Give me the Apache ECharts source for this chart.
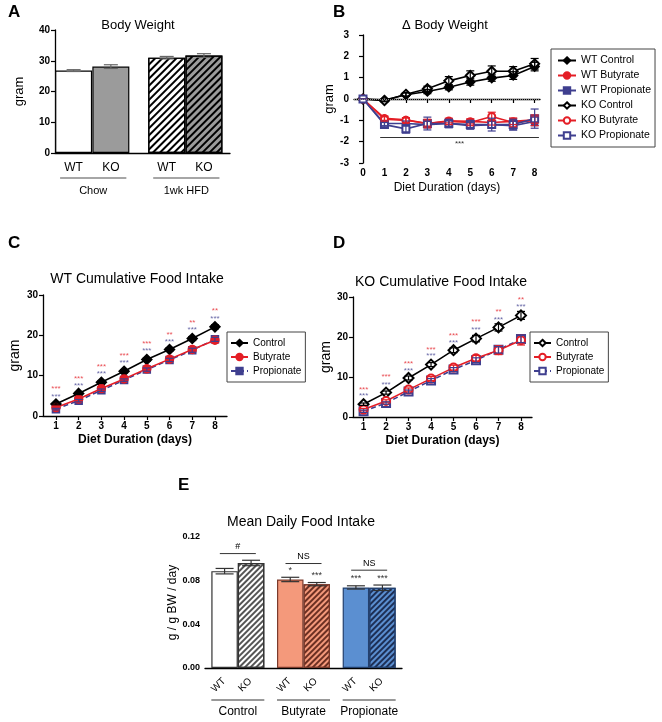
<!DOCTYPE html>
<html>
<head>
<meta charset="utf-8">
<title>Body weight and food intake</title>
<script src="https://cdn.jsdelivr.net/npm/echarts@6/dist/echarts.min.js"></script>
<style>body{margin:0;background:#fff}#main{width:662px;height:722px}</style>
</head>
<body>
<div id="main"></div>
<script>
// ---- A: body weight
const bwGroups = ['Chow', '1wk HFD'];
const bwLabels = ['WT', 'KO', 'WT', 'KO'];
const bwPos = [0.5, 1.5, 3.0, 4.0];
const bwMean = [26.8, 28.1, 31.0, 31.7];
const bwErr = [0.3, 0.6, 0.4, 0.6];

// ---- B: delta body weight
const days = [0, 1, 2, 3, 4, 5, 6, 7, 8];
const dbwNames = ['WT Control', 'WT Butyrate', 'WT Propionate', 'KO Control', 'KO Butyrate', 'KO Propionate'];
const wtCtrlDbw = [0, -0.05, 0.2, 0.35, 0.55, 0.8, 0.98, 1.1, 1.52];
const wtButDbw = [0, -0.9, -0.98, -1.15, -1.02, -1.05, -1.1, -1.05, -0.98];
const wtPropDbw = [0, -1.15, -1.15, -1.2, -1.15, -1.25, -1.2, -1.25, -1.05];
const koCtrlDbw = [0, -0.08, 0.22, 0.48, 0.85, 1.1, 1.3, 1.3, 1.65];
const koButDbw = [0, -0.95, -1.0, -1.15, -1.05, -1.1, -0.82, -1.1, -1.0];
const koPropDbw = [0, -1.2, -1.4, -1.15, -1.15, -1.2, -1.2, -1.2, -0.92];
const wtCtrlDbwErr = [0, 0.05, 0.08, 0.1, 0.12, 0.15, 0.15, 0.18, 0.2];
const wtButDbwErr = [0, 0.1, 0.1, 0.12, 0.1, 0.12, 0.12, 0.15, 0.15];
const wtPropDbwErr = [0, 0.1, 0.12, 0.15, 0.12, 0.15, 0.15, 0.2, 0.2];
const koCtrlDbwErr = [0, 0.05, 0.08, 0.12, 0.2, 0.22, 0.25, 0.22, 0.25];
const koButDbwErr = [0, 0.12, 0.12, 0.2, 0.15, 0.15, 0.2, 0.2, 0.25];
const koPropDbwErr = [0, 0.1, 0.2, 0.3, 0.2, 0.2, 0.3, 0.25, 0.45];

// ---- C / D: cumulative food intake
const fiDays = [1, 2, 3, 4, 5, 6, 7, 8];
const wtCtrlFi = [2.98, 5.6, 8.35, 11.1, 14.0, 16.5, 19.2, 22.1];
const wtButFi = [2.1, 4.2, 6.8, 9.2, 11.7, 14.1, 16.5, 18.8];
const wtPropFi = [1.7, 3.8, 6.4, 8.9, 11.5, 13.9, 16.3, 19.0];
const wtCtrlFiErr = [0.2, 0.3, 0.3, 0.4, 0.4, 0.4, 0.5, 0.5];
const wtButFiErr = [0.2, 0.3, 0.3, 0.3, 0.4, 0.4, 0.5, 0.6];
const wtPropFiErr = [0.2, 0.3, 0.3, 0.3, 0.4, 0.4, 0.5, 0.5];
const koCtrlFi = [3.2, 6.1, 9.75, 13.1, 16.7, 19.6, 22.4, 25.4];
const koButFi = [1.85, 4.0, 6.85, 9.6, 12.35, 14.7, 16.7, 19.2];
const koPropFi = [1.45, 3.5, 6.35, 9.1, 11.85, 14.2, 16.8, 19.5];
const koCtrlFiErr = [0.3, 0.4, 0.5, 0.5, 0.6, 0.8, 0.9, 1.0];
const koButFiErr = [0.3, 0.3, 0.4, 0.5, 0.6, 0.7, 1.1, 1.2];
const koPropFiErr = [0.3, 0.3, 0.4, 0.5, 0.5, 0.6, 0.8, 0.9];
const wtStarBut = ['***', '***', '***', '***', '***', '**', '**', '**'];
const wtStarProp = ['***', '***', '***', '***', '***', '***', '***', '***'];
const wtStarButY = [6.7, 9.2, 12.2, 14.9, 17.9, 20.2, 23.2, 26.0];
const wtStarPropY = [4.8, 7.4, 10.4, 13.2, 16.2, 18.4, 21.3, 24.2];
const koStarBut = ['***', '***', '***', '***', '***', '***', '**', '**'];
const koStarProp = ['***', '***', '***', '***', '***', '***', '***', '***'];
const koStarButY = [6.85, 10.0, 13.3, 16.9, 20.4, 23.75, 26.25, 29.3];
const koStarPropY = [5.2, 8.1, 11.5, 15.2, 18.6, 21.8, 24.4, 27.5];

// ---- E: mean daily food intake
const mdfGroups = ['Control', 'Butyrate', 'Propionate'];
const mdfWT = [0.0887, 0.0811, 0.0738];
const mdfKO = [0.0962, 0.0768, 0.0735];
const mdfWTErr = [0.0025, 0.002, 0.0015];
const mdfKOErr = [0.0025, 0.0015, 0.0025];
const mdfWTSig = ['', '*', '***'];
const mdfKOSig = ['', '***', '***'];
const mdfPairSig = ['#', 'NS', 'NS'];
const mdfPairY = [0.1048, 0.0957, 0.0896];

const FONT = 'Liberation Sans, Arial, sans-serif';
const RED = '#e41e26', BLUE = '#3f3f8f';

// stripes running from lower left to upper right
function hatch(color, gap) {
  return { symbol: 'rect', symbolSize: 1, dashArrayX: [1, 0], dashArrayY: [1.2, gap], rotation: -Math.PI / 4, color: color };
}

function axisBase(extra) {
  return Object.assign({
    axisLine: { lineStyle: { color: '#000', width: 1.3 } },
    axisTick: { length: 4, lineStyle: { color: '#000', width: 1.2 } },
    axisLabel: { color: '#000', fontSize: 10, fontWeight: 'bold', fontFamily: FONT, margin: 5 },
    splitLine: { show: false },
    nameTextStyle: { color: '#000', fontSize: 12, fontFamily: FONT },
    nameLocation: 'middle'
  }, extra);
}

function errSeries(ax, xs, ys, es, color, cap, shift) {
  return {
    type: 'custom', xAxisIndex: ax, yAxisIndex: ax, silent: true, z: 4,
    data: xs.map((x, i) => [x, ys[i], es[i]]),
    renderItem: (params, api) => {
      const hi = api.coord([api.value(0), api.value(1) + api.value(2)]);
      const lo = api.coord([api.value(0), api.value(1) - api.value(2)]);
      const x = hi[0] + (shift || 0);
      const st = { stroke: color, lineWidth: 1.2 };
      return { type: 'group', children: [
        { type: 'line', shape: { x1: x, y1: hi[1], x2: x, y2: lo[1] }, style: st },
        { type: 'line', shape: { x1: x - cap, y1: hi[1], x2: x + cap, y2: hi[1] }, style: st },
        { type: 'line', shape: { x1: x - cap, y1: lo[1], x2: x + cap, y2: lo[1] }, style: st }
      ] };
    }
  };
}

function lineSeries(name, ax, xs, ys, color, symbol, size, dashed) {
  return {
    type: 'line', name: name, xAxisIndex: ax, yAxisIndex: ax, z: 3,
    data: xs.map((x, i) => [x, ys[i]]),
    symbol: symbol, symbolSize: size, color: color,
    lineStyle: { color: color, width: 1.6, type: dashed ? [5, 3] : 'solid' },
    itemStyle: { color: color, borderColor: color, borderWidth: 1.5 }
  };
}

function starSeries(ax, xs, ys, texts, color) {
  return {
    type: 'scatter', xAxisIndex: ax, yAxisIndex: ax, silent: true, symbolSize: 1,
    itemStyle: { color: 'transparent' },
    data: xs.map((x, i) => [x, ys[i], texts[i]]),
    label: { show: true, position: 'inside', formatter: p => p.value[2], color: color, fontSize: 8, fontFamily: FONT }
  };
}

const chart = echarts.init(document.getElementById('main'));

const legendBase = {
  orient: 'vertical', itemWidth: 18, itemHeight: 8, itemGap: 4,
  borderColor: '#444', borderWidth: 1, padding: [6, 4, 6, 6],
  textStyle: { fontSize: 10.5, fontFamily: FONT, color: '#000' },
  selectedMode: false
};
const smallLegend = {
  itemWidth: 17, padding: [6, 4, 6, 3], itemGap: 4,
  textStyle: { fontSize: 10, fontFamily: FONT, color: '#000' }
};

const aStyles = [
  { color: '#fff' },
  { color: '#9b9b9b' },
  { color: '#fff', decal: hatch('#000', 2.2) },
  { color: '#9b9b9b', decal: hatch('#000', 2.2) }
];
const eWTColors = ['#ffffff', '#f4997b', '#5b8fd1'];
const eKOColors = ['#ffffff', '#f4997b', '#5b8fd1'];
const eKOHatch = ['#555555', '#6b2f22', '#1d2f55'];
const eBorders = ['#333333', '#7a3a2c', '#23406e'];

const option = {
  animation: false,
  textStyle: { fontFamily: FONT },
  grid: [
    { left: 55, top: 30, width: 175, height: 123 },
    { left: 354, top: 35, width: 186, height: 128 },
    { left: 43, top: 295, width: 184, height: 121 },
    { left: 353, top: 297, width: 179, height: 120 },
    { left: 205, top: 537, width: 197, height: 131 }
  ],
  xAxis: [
    axisBase({ type: 'value', gridIndex: 0, min: 0, max: 4.7, axisLabel: { show: false }, axisTick: { show: false } }),
    axisBase({ type: 'value', gridIndex: 1, min: -0.42, max: 8.25, name: 'Diet Duration (days)', nameGap: 19,
      axisLabel: { customValues: days, color: '#000', fontSize: 10, fontWeight: 'bold', margin: 5 },
      axisTick: { customValues: days, length: 4, lineStyle: { color: '#000', width: 1.2 } } }),
    axisBase({ type: 'value', gridIndex: 2, min: 0.43, max: 8.53, name: 'Diet Duration (days)', nameGap: 18,
      nameTextStyle: { color: '#000', fontSize: 12, fontWeight: 'bold', fontFamily: FONT },
      axisLabel: { customValues: fiDays, color: '#000', fontSize: 10, fontWeight: 'bold', margin: 5 },
      axisTick: { customValues: fiDays, length: 4, lineStyle: { color: '#000', width: 1.2 } } }),
    axisBase({ type: 'value', gridIndex: 3, min: 0.53, max: 8.49, name: 'Diet Duration (days)', nameGap: 18,
      nameTextStyle: { color: '#000', fontSize: 12, fontWeight: 'bold', fontFamily: FONT },
      axisLabel: { customValues: fiDays, color: '#000', fontSize: 10, fontWeight: 'bold', margin: 5 },
      axisTick: { customValues: fiDays, length: 4, lineStyle: { color: '#000', width: 1.2 } } }),
    axisBase({ type: 'category', gridIndex: 4, data: mdfGroups, axisLabel: { show: false }, axisTick: { show: false } })
  ],
  yAxis: [
    axisBase({ type: 'value', gridIndex: 0, min: 0, max: 40, interval: 10, name: 'gram', nameGap: 29, nameTextStyle: { fontSize: 13, color: '#000' } }),
    axisBase({ type: 'value', gridIndex: 1, min: -3, max: 3, interval: 1, name: 'gram', nameGap: 18, nameTextStyle: { fontSize: 13, color: '#000' } }),
    axisBase({ type: 'value', gridIndex: 2, min: 0, max: 30, interval: 10, name: 'gram', nameGap: 21, nameTextStyle: { fontSize: 14, color: '#000' } }),
    axisBase({ type: 'value', gridIndex: 3, min: 0, max: 30, interval: 10, name: 'gram', nameGap: 17, nameTextStyle: { fontSize: 14, color: '#000' } }),
    axisBase({ type: 'value', gridIndex: 4, min: 0, max: 0.12, interval: 0.04, name: 'g / g BW / day', nameGap: 26,
      nameTextStyle: { fontSize: 12, color: '#000' },
      axisLabel: { formatter: v => v.toFixed(2), color: '#000', fontSize: 9, fontWeight: 'bold', margin: 5 } })
  ],
  legend: [
    Object.assign({}, legendBase, { data: dbwNames, left: 551, top: 49 }),
    Object.assign({}, legendBase, smallLegend, { data: ['C:Control', 'C:Butyrate', 'C:Propionate'], left: 227, top: 332, formatter: n => n.slice(2) }),
    Object.assign({}, legendBase, smallLegend, { data: ['D:Control', 'D:Butyrate', 'D:Propionate'], left: 530, top: 332, formatter: n => n.slice(2) })
  ],
  series: [
    // A
    { type: 'bar', xAxisIndex: 0, yAxisIndex: 0, barWidth: 37, z: 2,
      data: bwPos.map((x, i) => ({ value: [x, bwMean[i]], itemStyle: Object.assign({ borderColor: '#000', borderWidth: 1.2 }, aStyles[i]) })) },
    errSeries(0, bwPos, bwMean, bwErr, '#666', 7),
    // B
    Object.assign(lineSeries('WT Control', 1, days, wtCtrlDbw, '#000', 'diamond', 9), {
      markLine: { silent: true, symbol: 'none', label: { show: false },
        lineStyle: { color: '#888', type: 'dotted', width: 1 }, data: [{ yAxis: 0 }] } }),
    Object.assign(lineSeries('WT Butyrate', 1, days, wtButDbw, RED, 'circle', 7), {
      markLine: { silent: true, symbol: 'none',
        label: { show: true, formatter: '***', position: 'insideMiddleBottom', fontSize: 8, color: '#333', distance: 2 },
        lineStyle: { color: '#333', type: 'solid', width: 1 },
        data: [[{ coord: [0.8, -1.8] }, { coord: [8.2, -1.8] }]] } }),
    lineSeries('WT Propionate', 1, days, wtPropDbw, BLUE, 'rect', 6),
    lineSeries('KO Control', 1, days, koCtrlDbw, '#000', 'emptyDiamond', 9),
    lineSeries('KO Butyrate', 1, days, koButDbw, RED, 'emptyCircle', 7),
    lineSeries('KO Propionate', 1, days, koPropDbw, BLUE, 'emptyRect', 7),
    errSeries(1, days, wtCtrlDbw, wtCtrlDbwErr, '#000', 4),
    errSeries(1, days, wtButDbw, wtButDbwErr, RED, 4),
    errSeries(1, days, wtPropDbw, wtPropDbwErr, BLUE, 4),
    errSeries(1, days, koCtrlDbw, koCtrlDbwErr, '#000', 4),
    errSeries(1, days, koButDbw, koButDbwErr, RED, 4),
    errSeries(1, days, koPropDbw, koPropDbwErr, BLUE, 4),
    // C
    lineSeries('C:Control', 2, fiDays, wtCtrlFi, '#000', 'diamond', 10),
    lineSeries('C:Propionate', 2, fiDays, wtPropFi, BLUE, 'rect', 7, true),
    lineSeries('C:Butyrate', 2, fiDays, wtButFi, RED, 'circle', 8),
    errSeries(2, fiDays, wtCtrlFi, wtCtrlFiErr, '#000', 4),
    errSeries(2, fiDays, wtButFi, wtButFiErr, RED, 4),
    errSeries(2, fiDays, wtPropFi, wtPropFiErr, BLUE, 4),
    starSeries(2, fiDays, wtStarButY, wtStarBut, RED),
    starSeries(2, fiDays, wtStarPropY, wtStarProp, BLUE),
    // D
    lineSeries('D:Control', 3, fiDays, koCtrlFi, '#000', 'emptyDiamond', 10),
    lineSeries('D:Propionate', 3, fiDays, koPropFi, BLUE, 'emptyRect', 8, true),
    lineSeries('D:Butyrate', 3, fiDays, koButFi, RED, 'emptyCircle', 8),
    errSeries(3, fiDays, koCtrlFi, koCtrlFiErr, '#000', 4),
    errSeries(3, fiDays, koButFi, koButFiErr, RED, 4),
    errSeries(3, fiDays, koPropFi, koPropFiErr, BLUE, 4),
    starSeries(3, fiDays, koStarButY, koStarBut, RED),
    starSeries(3, fiDays, koStarPropY, koStarProp, BLUE),
    // E
    { type: 'bar', name: 'WT', xAxisIndex: 4, yAxisIndex: 4, barWidth: 26.5, barGap: 0,
      data: mdfWT.map((v, i) => ({ value: v, itemStyle: { color: eWTColors[i], borderColor: eBorders[i], borderWidth: 1.2 } })) },
    { type: 'bar', name: 'KO', xAxisIndex: 4, yAxisIndex: 4, barWidth: 26.5, barGap: 0,
      data: mdfKO.map((v, i) => ({ value: v, itemStyle: { color: eKOColors[i], borderColor: eBorders[i], borderWidth: 1.2, decal: hatch(eKOHatch[i], 1.2) } })) },
    errSeries(4, [0, 1, 2], mdfWT, mdfWTErr, '#333', 9, -13.25),
    errSeries(4, [0, 1, 2], mdfKO, mdfKOErr, '#333', 9, 13.25)
  ]
};

chart.setOption(option);

// annotations placed through the axes' own scales
const px = (g, x, y) => chart.convertToPixel({ gridIndex: g }, [x, y]);
const txt = (x, y, s, o, rot) => ({ type: 'text', x: x, y: y, rotation: rot || 0, silent: true,
  style: Object.assign({ text: s, fontSize: 11, fontFamily: FONT, fill: '#000', align: 'center', verticalAlign: 'middle' }, o || {}) });
const seg = (x1, y1, x2, y2, c, w) => ({ type: 'line', silent: true, shape: { x1, y1, x2, y2 }, style: { stroke: c || '#000', lineWidth: w || 1 } });

const g = [];
// panel letters and titles
[['A', 8, 12], ['B', 333, 12], ['C', 8, 243], ['D', 333, 243], ['E', 178, 485]].forEach(l =>
  g.push(txt(l[1], l[2], l[0], { fontSize: 17, fontWeight: 'bold', align: 'left' })));
g.push(txt(138, 25, 'Body Weight', { fontSize: 13 }));
g.push(txt(445, 25, '\u0394 Body Weight', { fontSize: 13 }));
g.push(txt(137, 279, 'WT Cumulative Food Intake', { fontSize: 14 }));
g.push(txt(441, 282, 'KO Cumulative Food Intake', { fontSize: 14 }));
g.push(txt(301, 522, 'Mean Daily Food Intake', { fontSize: 14 }));

// A: WT/KO labels and group underlines
const aBase = px(0, 0, 0)[1];
bwPos.forEach((x, i) => g.push(txt(px(0, x, 0)[0], aBase + 15, bwLabels[i], { fontSize: 12 })));
bwGroups.forEach((name, k) => {
  const l = px(0, bwPos[2 * k], 0)[0] - 18.5 + 5, r = px(0, bwPos[2 * k + 1], 0)[0] + 18.5 - 3;
  g.push(seg(l, aBase + 25, r, aBase + 25, '#888', 1.5));
  g.push(txt((l + r) / 2, aBase + 38, name, { fontSize: 11 }));
});

// E: labels, brackets, significance
const eBase = px(4, 0, 0)[1];
mdfGroups.forEach((name, k) => {
  const c = px(4, k, 0)[0];
  g.push(txt(c - 13.25 - 6, eBase + 17, 'WT', { fontSize: 10 }, Math.PI / 4));
  g.push(txt(c + 13.25 - 6, eBase + 17, 'KO', { fontSize: 10 }, Math.PI / 4));
  g.push(seg(c - 26.5, eBase + 32, c + 26.5, eBase + 32, '#333', 1));
  g.push(txt(c, eBase + 44, name, { fontSize: 12 }));
  const by = px(4, k, mdfPairY[k])[1];
  g.push(seg(c - 18, by, c + 18, by, '#333', 1));
  g.push(txt(c, by - 7, mdfPairSig[k], { fontSize: 9 }));
  const wy = px(4, k, mdfWT[k] + mdfWTErr[k])[1];
  const ky = px(4, k, mdfKO[k] + mdfKOErr[k])[1];
  if (mdfWTSig[k]) g.push(txt(c - 13.25, wy - 7, mdfWTSig[k], { fontSize: 9, fill: '#333' }));
  if (mdfKOSig[k]) g.push(txt(c + 13.25, ky - 7, mdfKOSig[k], { fontSize: 9, fill: '#333' }));
});

chart.setOption({ graphic: g });
</script>
</body>
</html>
